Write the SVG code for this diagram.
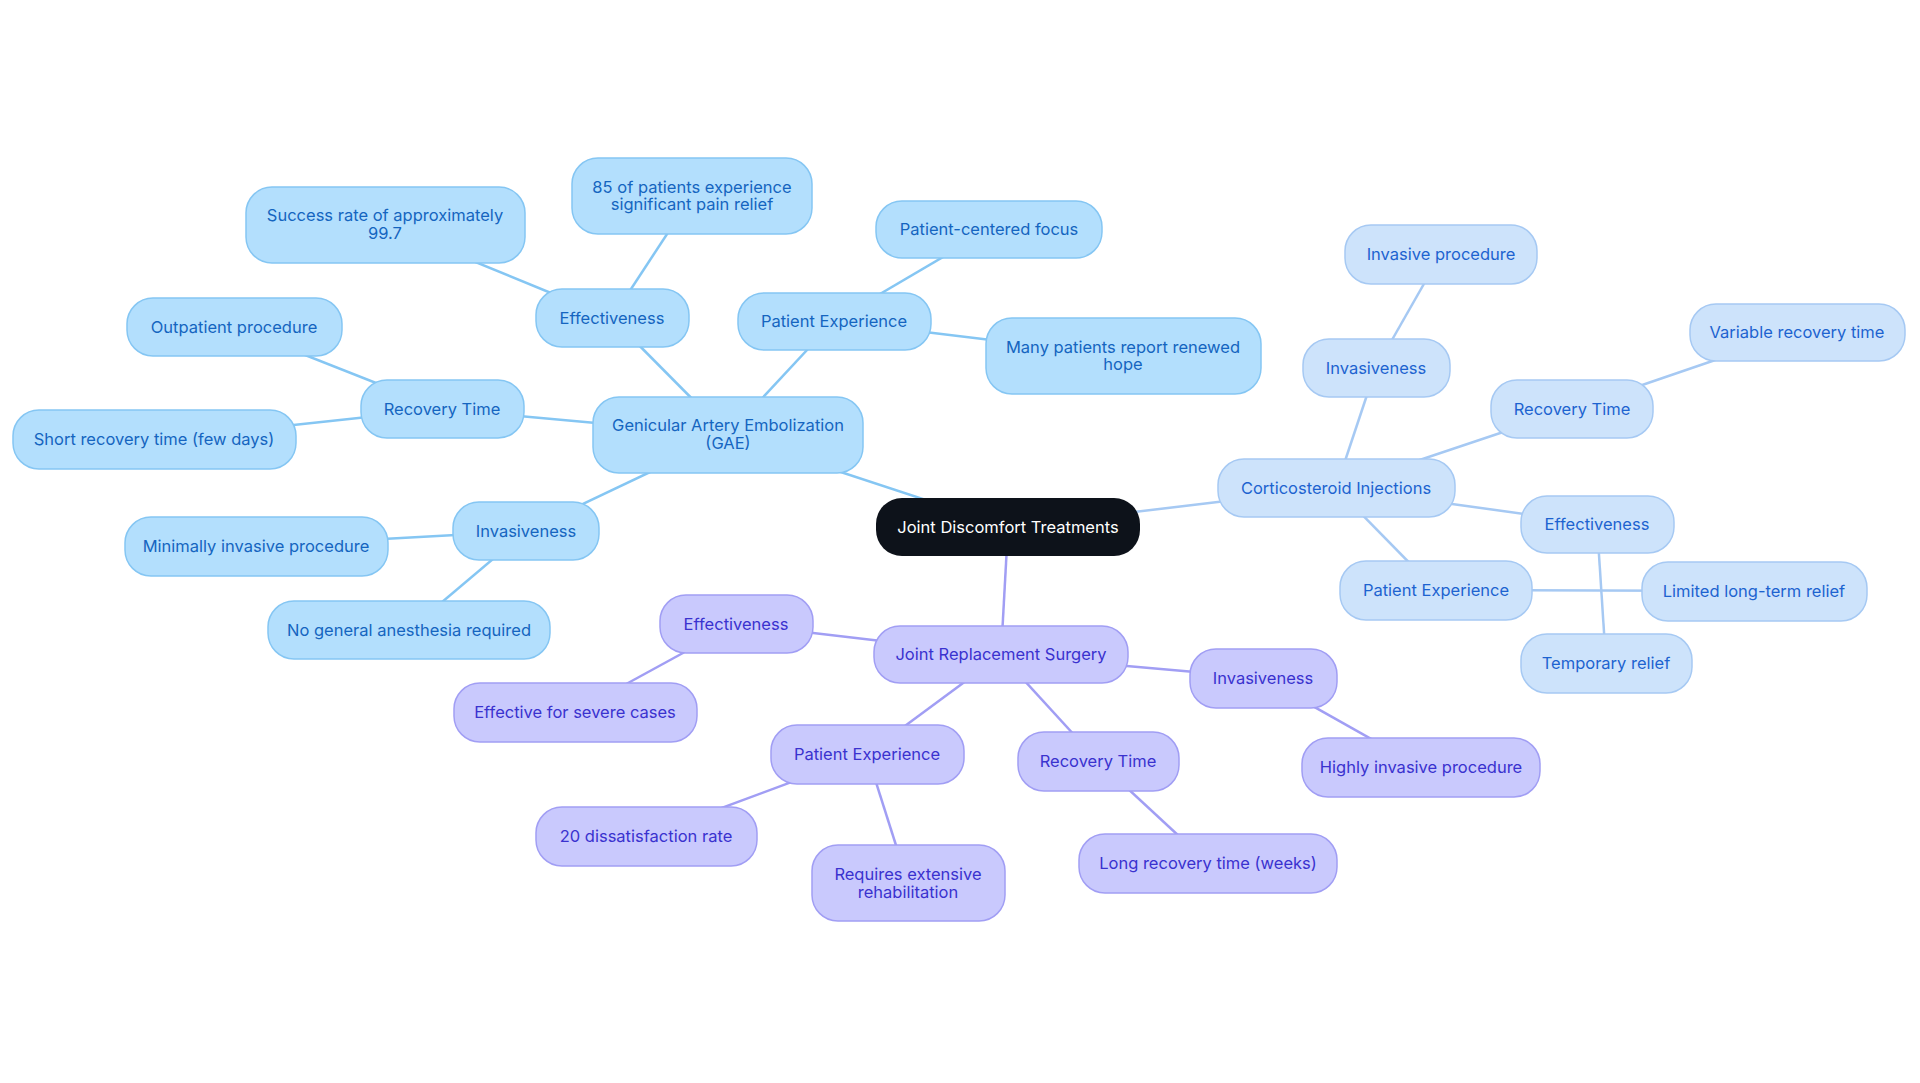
<svg xmlns="http://www.w3.org/2000/svg" width="1920" height="1083" viewBox="0 0 1920 1083">
<style>
text{font-family:Inter,"Noto Sans",sans-serif;font-size:16.5px;text-anchor:middle;dominant-baseline:central}
.a rect{fill:#b3dffd;stroke:#85c6f3;stroke-width:1.5}.a text{fill:#1565c0}
.c rect{fill:#cde3fb;stroke:#a6c9f3;stroke-width:1.5}.c text{fill:#1d63d0}
.j rect{fill:#c9c9fd;stroke:#a19ef4;stroke-width:1.5}.j text{fill:#3a32cf}
.r rect{fill:#0d121a}.r text{fill:#fff}
.ea{stroke:#85c6f3;stroke-width:2.5}.ec{stroke:#a6c9f3;stroke-width:2.5}.ej{stroke:#a19ef4;stroke-width:2.5}
</style>
<g id="connectors">
<line class="ea" x1="1008" y1="527" x2="728" y2="435"/>
<line class="ec" x1="1008" y1="527" x2="1336" y2="488"/>
<line class="ej" x1="1008" y1="527" x2="1001" y2="655"/>
<line class="ea" x1="728" y1="435" x2="612" y2="318"/>
<line class="ea" x1="612" y1="318" x2="385" y2="225"/>
<line class="ea" x1="612" y1="318" x2="692" y2="196"/>
<line class="ea" x1="728" y1="435" x2="834" y2="321"/>
<line class="ea" x1="834" y1="321" x2="989" y2="230"/>
<line class="ea" x1="834" y1="321" x2="1123" y2="356"/>
<line class="ea" x1="728" y1="435" x2="442" y2="409"/>
<line class="ea" x1="442" y1="409" x2="234" y2="327"/>
<line class="ea" x1="442" y1="409" x2="154" y2="440"/>
<line class="ea" x1="728" y1="435" x2="526" y2="531"/>
<line class="ea" x1="526" y1="531" x2="256" y2="546"/>
<line class="ea" x1="526" y1="531" x2="409" y2="630"/>
<line class="ec" x1="1336" y1="488" x2="1376" y2="368"/>
<line class="ec" x1="1376" y1="368" x2="1441" y2="254"/>
<line class="ec" x1="1336" y1="488" x2="1572" y2="409"/>
<line class="ec" x1="1572" y1="409" x2="1797" y2="332"/>
<line class="ec" x1="1336" y1="488" x2="1597" y2="524"/>
<line class="ec" x1="1597" y1="524" x2="1606" y2="663"/>
<line class="ec" x1="1336" y1="488" x2="1436" y2="590"/>
<line class="ec" x1="1436" y1="590" x2="1754" y2="591"/>
<line class="ej" x1="1001" y1="655" x2="736" y2="624"/>
<line class="ej" x1="736" y1="624" x2="575" y2="712"/>
<line class="ej" x1="1001" y1="655" x2="867" y2="754"/>
<line class="ej" x1="867" y1="754" x2="646" y2="836"/>
<line class="ej" x1="867" y1="754" x2="908" y2="883"/>
<line class="ej" x1="1001" y1="655" x2="1098" y2="761"/>
<line class="ej" x1="1098" y1="761" x2="1208" y2="863"/>
<line class="ej" x1="1001" y1="655" x2="1263" y2="678"/>
<line class="ej" x1="1263" y1="678" x2="1421" y2="767"/>
</g>
<g id="root" class="r"><rect x="876" y="498" width="264" height="58" rx="26"/><text x="1008" y="527">Joint Discomfort Treatments</text></g>
<g id="gae" class="a"><rect x="593" y="397" width="270" height="76" rx="26"/><text x="728" y="425">Genicular Artery Embolization</text><text x="728" y="443">(GAE)</text></g>
<g id="gae-eff" class="a"><rect x="536" y="289" width="153" height="58" rx="26"/><text x="612" y="318">Effectiveness</text></g>
<g id="gae-success" class="a"><rect x="246" y="187" width="279" height="76" rx="26"/><text x="385" y="215">Success rate of approximately</text><text x="385" y="233">99.7</text></g>
<g id="gae-85" class="a"><rect x="572" y="158" width="240" height="76" rx="26"/><text x="692" y="187">85 of patients experience</text><text x="692" y="204">significant pain relief</text></g>
<g id="gae-pe" class="a"><rect x="738" y="293" width="193" height="57" rx="26"/><text x="834" y="321">Patient Experience</text></g>
<g id="gae-focus" class="a"><rect x="876" y="201" width="226" height="57" rx="26"/><text x="989" y="229">Patient-centered focus</text></g>
<g id="gae-hope" class="a"><rect x="986" y="318" width="275" height="76" rx="26"/><text x="1123" y="347">Many patients report renewed</text><text x="1123" y="364">hope</text></g>
<g id="gae-rt" class="a"><rect x="361" y="380" width="163" height="58" rx="26"/><text x="442" y="409">Recovery Time</text></g>
<g id="gae-out" class="a"><rect x="127" y="298" width="215" height="58" rx="26"/><text x="234" y="327">Outpatient procedure</text></g>
<g id="gae-short" class="a"><rect x="13" y="410" width="283" height="59" rx="26"/><text x="154" y="439">Short recovery time (few days)</text></g>
<g id="gae-inv" class="a"><rect x="453" y="502" width="146" height="58" rx="26"/><text x="526" y="531">Invasiveness</text></g>
<g id="gae-min" class="a"><rect x="125" y="517" width="263" height="59" rx="26"/><text x="256" y="546">Minimally invasive procedure</text></g>
<g id="gae-noga" class="a"><rect x="268" y="601" width="282" height="58" rx="26"/><text x="409" y="630">No general anesthesia required</text></g>
<g id="cs" class="c"><rect x="1218" y="459" width="237" height="58" rx="26"/><text x="1336" y="488">Corticosteroid Injections</text></g>
<g id="cs-inv" class="c"><rect x="1303" y="339" width="147" height="58" rx="26"/><text x="1376" y="368">Invasiveness</text></g>
<g id="cs-invp" class="c"><rect x="1345" y="225" width="192" height="59" rx="26"/><text x="1441" y="254">Invasive procedure</text></g>
<g id="cs-rt" class="c"><rect x="1491" y="380" width="162" height="58" rx="26"/><text x="1572" y="409">Recovery Time</text></g>
<g id="cs-var" class="c"><rect x="1690" y="304" width="215" height="57" rx="26"/><text x="1797" y="332">Variable recovery time</text></g>
<g id="cs-eff" class="c"><rect x="1521" y="496" width="153" height="57" rx="26"/><text x="1597" y="524">Effectiveness</text></g>
<g id="cs-pe" class="c"><rect x="1340" y="561" width="192" height="59" rx="26"/><text x="1436" y="590">Patient Experience</text></g>
<g id="cs-lim" class="c"><rect x="1642" y="562" width="225" height="59" rx="26"/><text x="1754" y="591">Limited long-term relief</text></g>
<g id="cs-temp" class="c"><rect x="1521" y="634" width="171" height="59" rx="26"/><text x="1606" y="663">Temporary relief</text></g>
<g id="jrs" class="j"><rect x="874" y="626" width="254" height="57" rx="26"/><text x="1001" y="654">Joint Replacement Surgery</text></g>
<g id="jrs-eff" class="j"><rect x="660" y="595" width="153" height="58" rx="26"/><text x="736" y="624">Effectiveness</text></g>
<g id="jrs-sev" class="j"><rect x="454" y="683" width="243" height="59" rx="26"/><text x="575" y="712">Effective for severe cases</text></g>
<g id="jrs-pe" class="j"><rect x="771" y="725" width="193" height="59" rx="26"/><text x="867" y="754">Patient Experience</text></g>
<g id="jrs-20" class="j"><rect x="536" y="807" width="221" height="59" rx="26"/><text x="646" y="836">20 dissatisfaction rate</text></g>
<g id="jrs-rehab" class="j"><rect x="812" y="845" width="193" height="76" rx="26"/><text x="908" y="874">Requires extensive</text><text x="908" y="892">rehabilitation</text></g>
<g id="jrs-rt" class="j"><rect x="1018" y="732" width="161" height="59" rx="26"/><text x="1098" y="761">Recovery Time</text></g>
<g id="jrs-long" class="j"><rect x="1079" y="834" width="258" height="59" rx="26"/><text x="1208" y="863">Long recovery time (weeks)</text></g>
<g id="jrs-inv" class="j"><rect x="1190" y="649" width="147" height="59" rx="26"/><text x="1263" y="678">Invasiveness</text></g>
<g id="jrs-high" class="j"><rect x="1302" y="738" width="238" height="59" rx="26"/><text x="1421" y="767">Highly invasive procedure</text></g>
</svg>
